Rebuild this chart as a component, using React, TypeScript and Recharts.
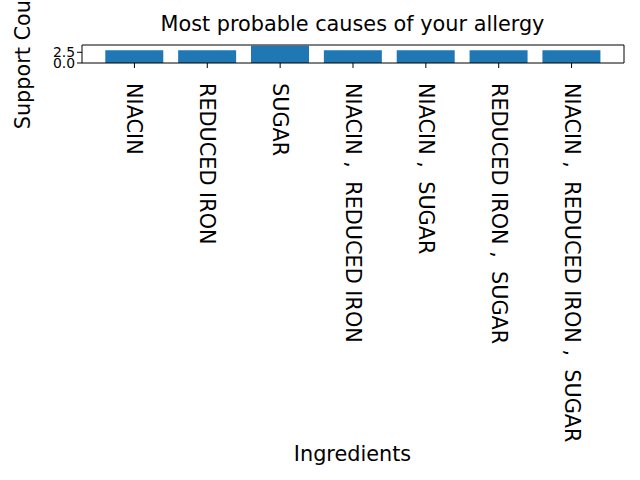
import React from 'react';
import { BarChart, Bar, XAxis, YAxis } from 'recharts';

const ingredients = [
  'NIACIN',
  'REDUCED IRON',
  'SUGAR',
  'NIACIN ,  REDUCED IRON',
  'NIACIN ,  SUGAR',
  'REDUCED IRON ,  SUGAR',
  'NIACIN ,  REDUCED IRON ,  SUGAR'
];
const supportCounts = [3, 3, 4, 3, 3, 3, 3];
const yTicks = [0, 2.5];

const FONT = 'DejaVu Sans, sans-serif';

const data = ingredients.map((name, i) => ({ name, count: supportCounts[i] }));

// vertical tick labels, reading top to bottom
const RotatedTick = (props: any) => {
  const { x, y, payload } = props;
  return (
    <text
      x={x}
      y={y + 13}
      transform={`rotate(90, ${x}, ${y + 13})`}
      textAnchor="start"
      dominantBaseline="central"
      fontFamily={FONT}
      fontSize={20.8}
      fill="#000"
      style={{ whiteSpace: 'pre' }}
    >
      {payload.value}
    </text>
  );
};

const YTick = (props: any) => {
  const { x, y, payload } = props;
  return (
    <text x={x} y={y} textAnchor="end" dominantBaseline="central" fontFamily={FONT} fontSize={13.9} fill="#000">
      {payload.value.toFixed(1)}
    </text>
  );
};

export default function App() {
  return (
    <div style={{ position: 'absolute', left: 0, top: 0, width: 640, height: 480, background: '#fff' }}>
      <svg width={640} height={40} style={{ position: 'absolute', left: 0, top: 0 }}>
        <text x={352.5} y={31} textAnchor="middle" fontFamily={FONT} fontSize={20.8} fill="#000">
          Most probable causes of your allergy
        </text>
      </svg>
      <BarChart
        width={640}
        height={480}
        data={data}
        margin={{ top: 44, right: 15, bottom: 0, left: 0 }}
        barCategoryGap="10%"
        style={{ position: 'absolute', left: 0, top: 0 }}
      >
        <XAxis
          dataKey="name"
          height={417}
          padding={{ left: 16, right: 16 }}
          interval={0}
          tickSize={5}
          tick={<RotatedTick />}
          tickLine={{ stroke: '#000' }}
          axisLine={{ stroke: '#000' }}
          label={{
            content: () => (
              <text x={352.5} y={461} textAnchor="middle" fontFamily={FONT} fontSize={20.8} fill="#000">
                Ingredients
              </text>
            )
          }}
        />
        <XAxis xAxisId="top" dataKey="name" orientation="top" height={1} tick={false} tickLine={false} axisLine={{ stroke: '#000' }} />
        <YAxis
          width={82}
          domain={[0, 4.2]}
          ticks={yTicks}
          interval={0}
          tickSize={5}
          tick={<YTick />}
          tickLine={{ stroke: '#000' }}
          axisLine={{ stroke: '#000' }}
          allowDataOverflow
          label={{
            content: () => (
              <text
                x={23}
                y={54}
                transform="rotate(-90, 23, 54)"
                textAnchor="middle"
                dominantBaseline="central"
                fontFamily={FONT}
                fontSize={20.8}
                fill="#000"
              >
                Support Count
              </text>
            )
          }}
        />
        <YAxis yAxisId="right" orientation="right" width={1} tick={false} tickLine={false} axisLine={{ stroke: '#000' }} />
        <Bar dataKey="count" fill="#1f77b4" isAnimationActive={false} />
      </BarChart>
    </div>
  );
}
